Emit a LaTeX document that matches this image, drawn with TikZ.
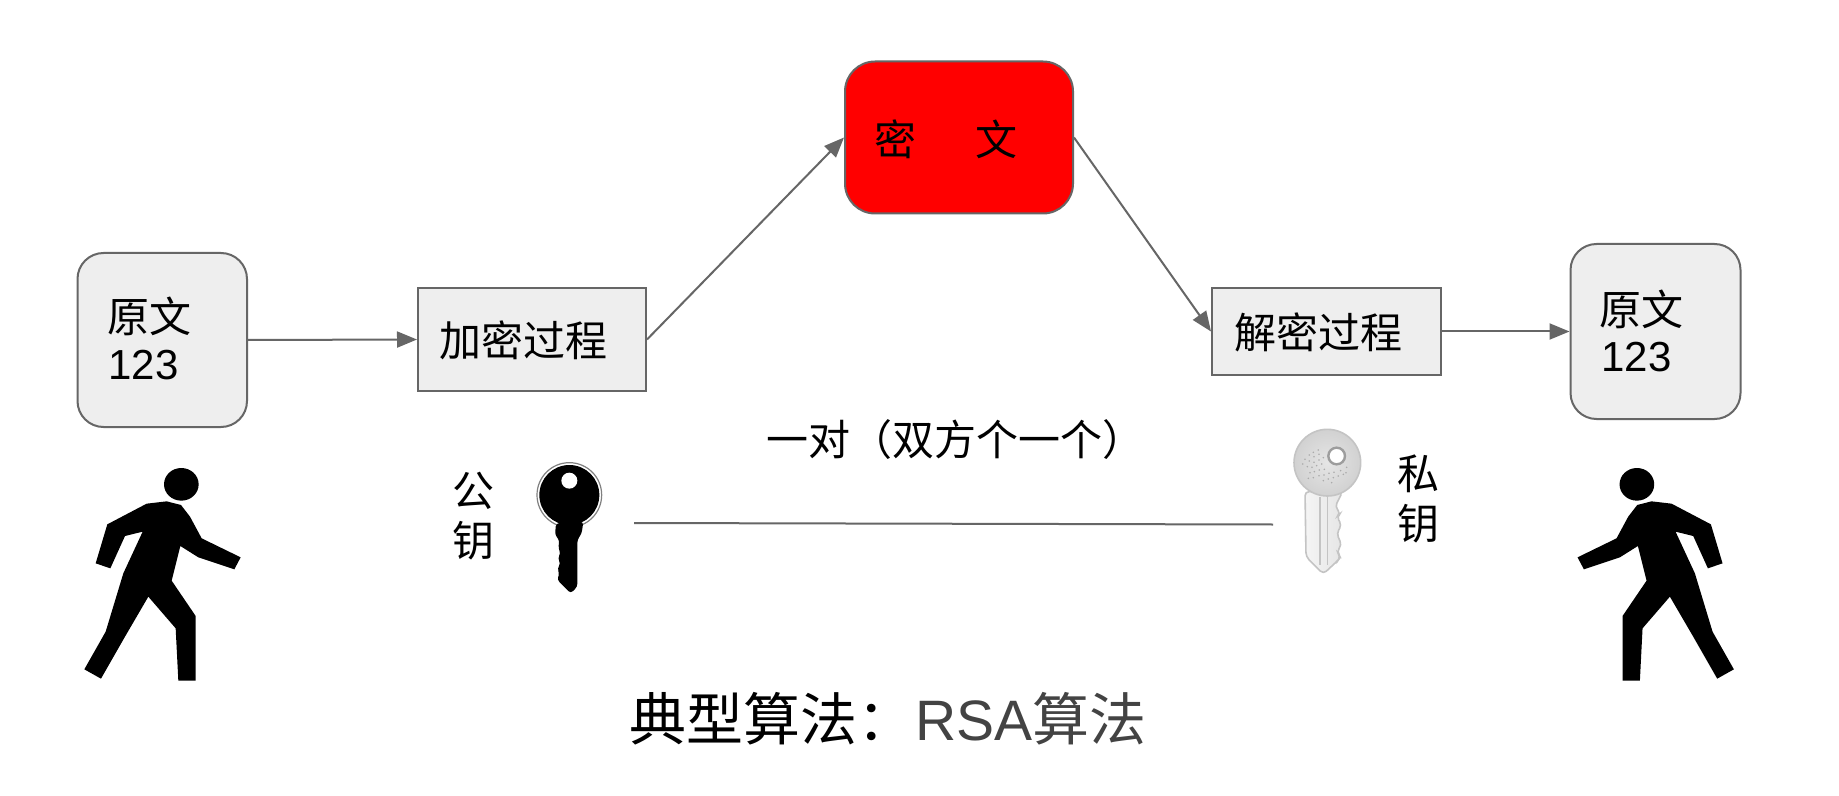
\documentclass[tikz,border=0pt]{standalone}
\usepackage{fontspec}
\setmainfont{Liberation Sans}
\newfontfamily\cjk{Noto Sans CJK SC}
\usetikzlibrary{arrows.meta}
\definecolor{linegray}{HTML}{666666}
\definecolor{boxfill}{HTML}{EEEEEE}
\definecolor{darktext}{HTML}{434343}
\definecolor{ciphred}{HTML}{FF0000}
\definecolor{keyrim}{HTML}{C4C4C4}
\definecolor{keydot}{HTML}{ABABAB}
\newcommand\walkerfig{%
  \fill[black] (319,73) ellipse [x radius=52, y radius=49];
  \fill[black] (215,131) -- (275,124) -- (318,135) -- (345,170) -- (380,235)
    -- (497,292) -- (478,328) -- (370,292) -- (316,258) -- (290,362)
    -- (362,468) -- (362,662) -- (310,662) -- (302,505) -- (220,410)
    -- (150,530) -- (78,656) -- (28,628) -- (92,515) -- (145,340)
    -- (203,215) -- (150,228) -- (106,325) -- (62,310) -- (97,193) -- cycle;
}
\tikzset{
  x=0.5pt, y=-0.5pt,
  softbox/.style={draw=linegray, fill=boxfill, line width=1pt, rounded corners=13pt, inner sep=0pt},
  procbox/.style={draw=linegray, fill=boxfill, line width=1pt, inner sep=0pt},
  cipherbox/.style={draw=linegray, fill=ciphred, line width=1pt, rounded corners=15pt, inner sep=0pt},
  flow/.style={draw=linegray, line width=1pt, -{Triangle[length=10pt,width=8pt,fill=linegray]}},
  pairline/.style={draw=linegray, line width=1pt},
  cn/.style={inner sep=0pt, font=\cjk\fontsize{21}{25}\selectfont},
  num/.style={inner sep=0pt, font=\fontsize{21}{25}\selectfont},
  big/.style={inner sep=0pt, anchor=west, font=\fontsize{28.5}{34}\selectfont},
}
\begin{document}
\begin{tikzpicture}
\useasboundingbox (0,0) rectangle (1839,796);
\fill[white] (0,0) rectangle (1839,796);

% boxes
\node[softbox, minimum width=84.75pt, minimum height=87pt] (srcbox) at (162.25,340) {};
\node[procbox, minimum width=114pt, minimum height=51.5pt] (encbox) at (532,339.5) {};
\node[cipherbox, minimum width=114pt, minimum height=76pt] (cipher) at (959,137.5) {};
\node[procbox, minimum width=114.5pt, minimum height=43.5pt] (decbox) at (1326.5,331.5) {};
\node[softbox, minimum width=85pt, minimum height=87.5pt] (dstbox) at (1655.5,331.5) {};

% box texts
\node[cn] (srctxt) at (149,316) {原文};
\node[num] (srcnum) at (143.5,365) {123};
\node[cn] (enctxt) at (523.5,340.5) {加密过程};
\node[cn] (mi) at (895.5,139) {密};
\node[cn] (wen) at (996,139) {文};
\node[cn] (dectxt) at (1318,332.5) {解密过程};
\node[cn] (dsttxt) at (1641.5,309) {原文};
\node[num] (dstnum) at (1636.5,357.5) {123};

% connectors
\draw[flow] (srcbox.east) -- (encbox.west);
\draw[flow] (encbox.east) -- (cipher.west);
\draw[flow] (cipher.east) -- (decbox.west);
\draw[flow] (decbox.east) -- (dstbox.west);
\coordinate (pubend) at (634,523);
\coordinate (privend) at (1273,524.5);
\draw[pairline] (pubend) -- (privend);

% labels
\node[cn, anchor=west] (pair) at (766,440) {一对（双方个一个）};
\node[cn] (gong) at (473,491) {公};
\node[cn] (yao1) at (473,541) {钥};
\node[cn] (si) at (1418.5,474) {私};
\node[cn] (yao2) at (1418.5,524) {钥};
\node[big] (algo) at (629,719) {{\cjk 典型算法：}\hspace{0.5pt}\textcolor{darktext}{RSA{\cjk 算法}}};

% walkers
\begin{scope}[shift={(75,460)}, scale=0.33333]
  \walkerfig
\end{scope}
\begin{scope}[shift={(1818.2,0)}, xscale=-1]
  \begin{scope}[shift={(75,460)}, scale=0.33333]
    \walkerfig
  \end{scope}
\end{scope}

% public key
\begin{scope}[shift={(500,440)}, scale=0.33333]
  \filldraw[fill=white, draw=gray, line width=0.6pt] (208,165) circle [radius=97];
  \fill[black] (208,165) circle [radius=90];
  \fill[black, rounded corners=1.5pt] (168,250) -- (165,285) -- (178,300) -- (175,325) -- (182,340) -- (173,355)
    -- (182,370) -- (172,385) -- (178,400) -- (172,420) -- (212,460) -- (232,440)
    -- (232,300) -- (245,280) -- (250,245) -- cycle;
  \fill[white] (208,122) circle [radius=24];
\end{scope}

% private key
\begin{scope}[shift={(1270,410)}, scale=0.33333]
  \filldraw[draw=keyrim, line width=0.8pt, rounded corners=2pt, left color=white!96!black, right color=white!90!black]
    (105,245) -- (108,440) -- (160,492) -- (205,450) -- (212,440) -- (200,425) -- (215,405)
    -- (200,370) -- (215,345) -- (200,320) -- (212,310) -- (195,290) -- (218,245) -- cycle;
  \draw[keyrim, line width=0.6pt] (150,262) -- (150,465) (173,262) -- (173,465);
  \shade[inner color=white!90!black, outer color=white!82!black] (172,158) circle [radius=100];
  \draw[keyrim, line width=0.8pt] (172,158) circle [radius=100];
  \foreach \dx/\dy in {145/120,130/127,118/135,132/140,147/133,105/148,118/153,132/157,147/150,160/143,
      98/162,112/170,126/172,140/167,155/162,120/188,115/205,133/185,148/180,163/178,
      130/203,147/197,162/195,177/190,192/187,160/212,175/207,190/203,205/198,220/193,
      230/172,228/188,212/182,185/218}
    \fill[keydot] (\dx,\dy) circle [radius=2.6];
  \fill[white] (200,138) circle [radius=24];
  \draw[keyrim!80!black, line width=1.2pt] (200,138) circle [radius=25];
\end{scope}
\end{tikzpicture}
\end{document}
